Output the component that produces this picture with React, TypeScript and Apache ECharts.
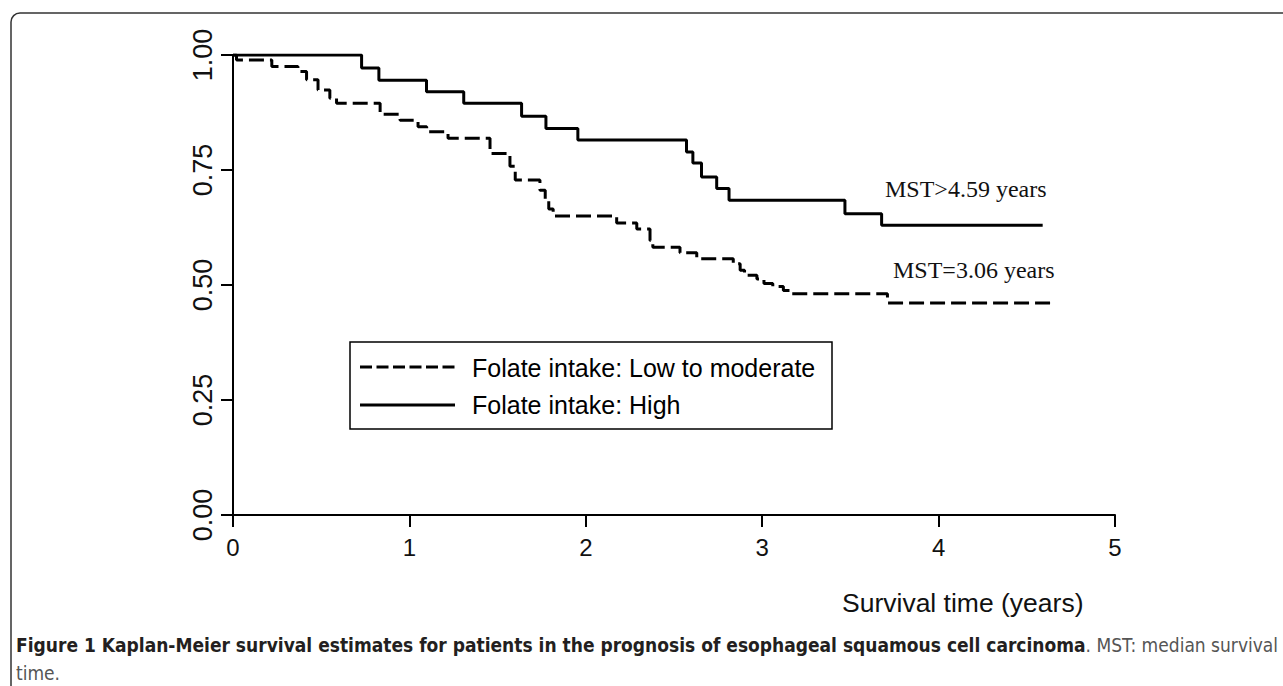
import React, { useEffect, useRef } from "react";
import * as echarts from "echarts";

const xTicks = [0, 1, 2, 3, 4, 5];
const yTickStep = 0.25;

const seriesNames = ["Folate intake: Low to moderate", "Folate intake: High"];

// Folate intake: High (solid)
const highTimes = [0, 0.729, 0.827, 1.097, 1.308, 1.636, 1.774, 1.955, 2.571, 2.607, 2.656, 2.742, 2.812, 3.469, 3.677, 4.59];
const highSurv = [1.0, 0.972, 0.945, 0.92, 0.895, 0.867, 0.84, 0.815, 0.789, 0.765, 0.735, 0.71, 0.684, 0.655, 0.63, 0.63];

// Folate intake: Low to moderate (dashed)
const lowTimes = [0, 0.02, 0.22, 0.368, 0.417, 0.482, 0.549, 0.587, 0.834, 0.947, 1.049, 1.098, 1.219, 1.457, 1.57, 1.6, 1.74, 1.77, 1.79, 1.815, 2.175, 2.289, 2.364, 2.38, 2.534, 2.629, 2.836, 2.875, 2.9, 2.97, 3.01, 3.06, 3.12, 3.17, 3.71, 4.65];
const lowSurv = [1.0, 0.989, 0.975, 0.964, 0.946, 0.924, 0.906, 0.895, 0.871, 0.858, 0.844, 0.833, 0.819, 0.786, 0.758, 0.728, 0.706, 0.684, 0.665, 0.65, 0.635, 0.622, 0.597, 0.582, 0.57, 0.557, 0.546, 0.532, 0.521, 0.513, 0.503, 0.497, 0.488, 0.481, 0.461, 0.461];

const mstLabels = ["MST>4.59 years", "MST=3.06 years"];
const xAxisTitle = "Survival time (years)";
const captionBold =
  "Figure 1 Kaplan-Meier survival estimates for patients in the prognosis of esophageal squamous cell carcinoma";
const captionRest = ". MST: median survival";
const captionLine2 = "time.";

const SANS = '"Liberation Sans", Arial, Helvetica, sans-serif';
const SERIF = '"Liberation Serif", "Times New Roman", serif';
const NARROW = '"Liberation Sans Narrow", "DejaVu Sans Condensed", "Open Sans", sans-serif';

export default function App() {
  const ref = useRef<HTMLDivElement>(null);

  useEffect(() => {
    if (!ref.current) return;
    const chart = echarts.init(ref.current, undefined, { renderer: "svg" });
    const lowData = lowTimes.map((t, i) => [t, lowSurv[i]]);
    const highData = highTimes.map((t, i) => [t, highSurv[i]]);

    chart.setOption({
      animation: false,
      backgroundColor: "#ffffff",
      grid: { left: 233, top: 55, width: 882, height: 460, containLabel: false },
      xAxis: {
        type: "value",
        min: xTicks[0],
        max: xTicks[xTicks.length - 1],
        interval: 1,
        axisLine: { show: true, onZero: false, lineStyle: { color: "#000", width: 2 } },
        axisTick: { show: true, length: 12, lineStyle: { color: "#000", width: 2 } },
        axisLabel: { show: true, fontSize: 24, fontFamily: SANS, color: "#111", margin: 20 },
        splitLine: { show: false },
      },
      yAxis: {
        type: "value",
        min: 0,
        max: 1,
        interval: yTickStep,
        axisLine: { show: true, lineStyle: { color: "#000", width: 2 } },
        axisTick: { show: true, length: 12, lineStyle: { color: "#000", width: 2 } },
        axisLabel: {
          show: true,
          rotate: 90,
          fontSize: 27,
          fontFamily: SANS,
          color: "#111",
          margin: 17,
          formatter: (v: number) => v.toFixed(2),
        },
        splitLine: { show: false },
      },
      series: [
        {
          name: seriesNames[0],
          type: "line",
          step: "end",
          data: lowData,
          symbol: "none",
          lineStyle: { color: "#000", width: 3, type: [15, 6] },
        },
        {
          name: seriesNames[1],
          type: "line",
          step: "end",
          data: highData,
          symbol: "none",
          lineStyle: { color: "#000", width: 3, type: "solid" },
        },
      ],
      graphic: [
        {
          type: "rect",
          shape: { x: 11, y: 13, width: 1300, height: 700, r: 9 },
          style: { fill: "none", stroke: "#333", lineWidth: 1.5 },
          silent: true,
        },
        {
          type: "rect",
          shape: { x: 350, y: 342, width: 482, height: 87 },
          style: { fill: "#fff", stroke: "#000", lineWidth: 1.5 },
        },
        {
          type: "line",
          shape: { x1: 360, y1: 367, x2: 455, y2: 367 },
          style: { stroke: "#000", lineWidth: 3, lineDash: [12, 4.5] },
        },
        {
          type: "line",
          shape: { x1: 360, y1: 405, x2: 455, y2: 405 },
          style: { stroke: "#000", lineWidth: 3 },
        },
        {
          type: "text",
          x: 472,
          y: 368,
          style: { text: seriesNames[0], fontSize: 25, fontFamily: SANS, fill: "#000", verticalAlign: "middle" },
        },
        {
          type: "text",
          x: 472,
          y: 405,
          style: { text: seriesNames[1], fontSize: 25, fontFamily: SANS, fill: "#000", verticalAlign: "middle" },
        },
        {
          type: "text",
          x: 885,
          y: 189,
          style: { text: mstLabels[0], fontSize: 24, fontFamily: SERIF, fill: "#111", verticalAlign: "middle" },
        },
        {
          type: "text",
          x: 893,
          y: 270,
          style: { text: mstLabels[1], fontSize: 24, fontFamily: SERIF, fill: "#111", verticalAlign: "middle" },
        },
        {
          type: "text",
          x: 842,
          y: 603,
          style: { text: xAxisTitle, fontSize: 26.5, fontFamily: SANS, fill: "#111", verticalAlign: "middle" },
        },
        {
          type: "text",
          x: 16,
          y: 645,
          style: {
            text: "{b|" + captionBold + "}{r|" + captionRest + "}",
            verticalAlign: "middle",
            rich: {
              b: { fontSize: 19, fontFamily: NARROW, fontWeight: "bold", fill: "#231f20" },
              r: { fontSize: 19, fontFamily: NARROW, fill: "#555" },
            },
          },
        },
        {
          type: "text",
          x: 16,
          y: 673,
          style: { text: captionLine2, fontSize: 19, fontFamily: NARROW, fill: "#555", verticalAlign: "middle" },
        },
      ],
    });

    return () => chart.dispose();
  }, []);

  return (
    <div
      ref={ref}
      style={{ position: "absolute", left: 0, top: 0, width: 1283, height: 686, background: "#fff" }}
    />
  );
}
